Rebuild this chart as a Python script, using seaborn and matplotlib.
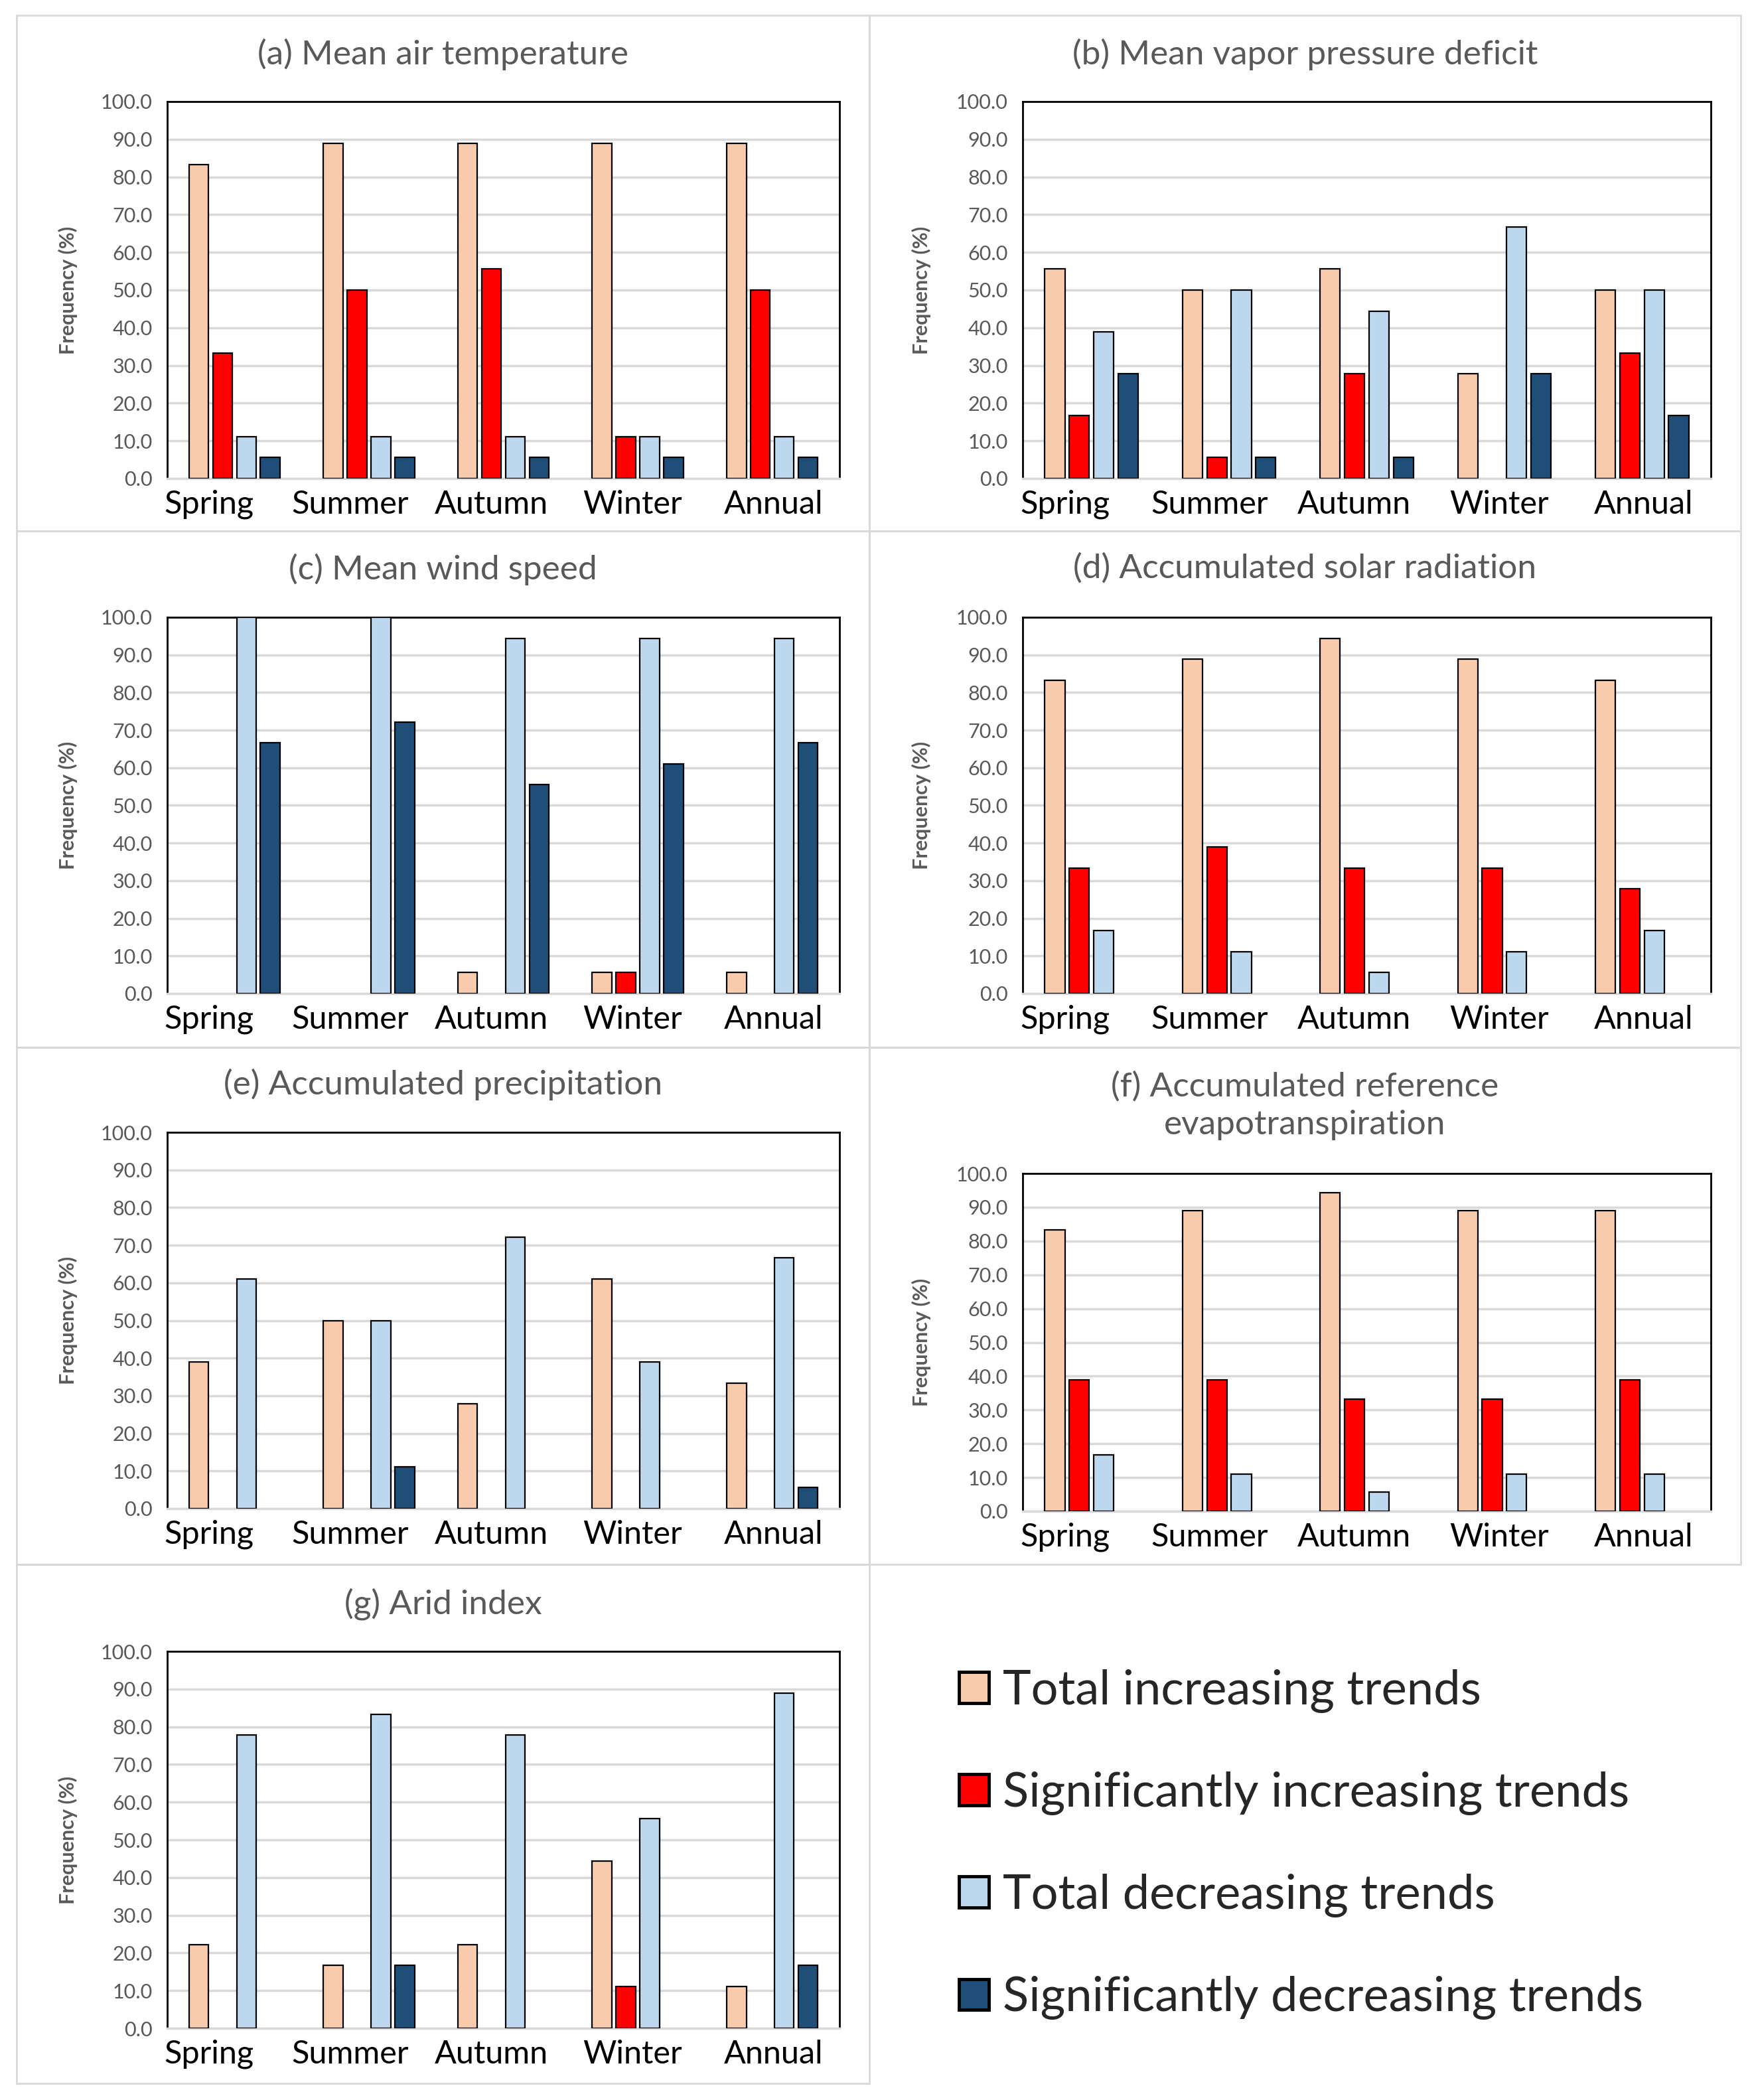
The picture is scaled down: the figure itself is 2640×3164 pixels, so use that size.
import numpy as np
import pandas as pd
import matplotlib
matplotlib.use("Agg")
import matplotlib.pyplot as plt
from matplotlib.patches import Patch, Rectangle
import seaborn as sns

# Categories and series
seasons = ["Spring", "Summer", "Autumn", "Winter", "Annual"]
trend_types = ["Total increasing trends", "Significantly increasing trends",
               "Total decreasing trends", "Significantly decreasing trends"]
colors = ["#F8CBAD", "#FF0000", "#BDD7EE", "#1F4E79"]

# Frequency (%) per season, one list per trend type
# (a) Mean air temperature
temp_tot_inc = [83.3, 88.9, 88.9, 88.9, 88.9]
temp_sig_inc = [33.3, 50.0, 55.6, 11.1, 50.0]
temp_tot_dec = [11.1, 11.1, 11.1, 11.1, 11.1]
temp_sig_dec = [5.6, 5.6, 5.6, 5.6, 5.6]
# (b) Mean vapor pressure deficit
vpd_tot_inc = [55.6, 50.0, 55.6, 27.8, 50.0]
vpd_sig_inc = [16.7, 5.6, 27.8, 0.0, 33.3]
vpd_tot_dec = [38.9, 50.0, 44.4, 66.7, 50.0]
vpd_sig_dec = [27.8, 5.6, 5.6, 27.8, 16.7]
# (c) Mean wind speed
wind_tot_inc = [0.0, 0.0, 5.6, 5.6, 5.6]
wind_sig_inc = [0.0, 0.0, 0.0, 5.6, 0.0]
wind_tot_dec = [100.0, 100.0, 94.4, 94.4, 94.4]
wind_sig_dec = [66.7, 72.2, 55.6, 61.1, 66.7]
# (d) Accumulated solar radiation
rad_tot_inc = [83.3, 88.9, 94.4, 88.9, 83.3]
rad_sig_inc = [33.3, 38.9, 33.3, 33.3, 27.8]
rad_tot_dec = [16.7, 11.1, 5.6, 11.1, 16.7]
rad_sig_dec = [0.0, 0.0, 0.0, 0.0, 0.0]
# (e) Accumulated precipitation
prec_tot_inc = [38.9, 50.0, 27.8, 61.1, 33.3]
prec_sig_inc = [0.0, 0.0, 0.0, 0.0, 0.0]
prec_tot_dec = [61.1, 50.0, 72.2, 38.9, 66.7]
prec_sig_dec = [0.0, 11.1, 0.0, 0.0, 5.6]
# (f) Accumulated reference evapotranspiration
et0_tot_inc = [83.3, 88.9, 94.4, 88.9, 88.9]
et0_sig_inc = [38.9, 38.9, 33.3, 33.3, 38.9]
et0_tot_dec = [16.7, 11.1, 5.6, 11.1, 11.1]
et0_sig_dec = [0.0, 0.0, 0.0, 0.0, 0.0]
# (g) Arid index
arid_tot_inc = [22.2, 16.7, 22.2, 44.4, 11.1]
arid_sig_inc = [0.0, 0.0, 0.0, 11.1, 0.0]
arid_tot_dec = [77.8, 83.3, 77.8, 55.6, 88.9]
arid_sig_dec = [0.0, 16.7, 0.0, 0.0, 16.7]

panel_titles = ["(a) Mean air temperature", "(b) Mean vapor pressure deficit",
                "(c) Mean wind speed", "(d) Accumulated solar radiation",
                "(e) Accumulated precipitation",
                "(f) Accumulated reference\nevapotranspiration",
                "(g) Arid index"]
panel_series = [
    [temp_tot_inc, temp_sig_inc, temp_tot_dec, temp_sig_dec],
    [vpd_tot_inc, vpd_sig_inc, vpd_tot_dec, vpd_sig_dec],
    [wind_tot_inc, wind_sig_inc, wind_tot_dec, wind_sig_dec],
    [rad_tot_inc, rad_sig_inc, rad_tot_dec, rad_sig_dec],
    [prec_tot_inc, prec_sig_inc, prec_tot_dec, prec_sig_dec],
    [et0_tot_inc, et0_sig_inc, et0_tot_dec, et0_sig_dec],
    [arid_tot_inc, arid_sig_inc, arid_tot_dec, arid_sig_dec],
]

W, H = 2640, 3164
# layout in pixels: axes (left, top, right, bottom), panel frame, title centre
axes_px = [(252, 153, 1265, 721), (1541, 153, 2578, 721),
           (252, 930, 1265, 1497), (1541, 930, 2578, 1497),
           (252, 1706, 1265, 2273), (1541, 1768, 2578, 2277),
           (252, 2488, 1265, 3056)]
frames_px = [(25, 23, 1310, 800), (1310, 23, 2623, 800),
             (25, 800, 1310, 1578), (1310, 800, 2623, 1578),
             (25, 1578, 1310, 2357), (1310, 1578, 2623, 2357),
             (25, 2357, 1310, 3139)]
title_y_px = [82, 82, 858, 856, 1634, 1666, 2417]

sns.set_theme(style="white")
plt.rcParams["font.family"] = ["Lato", "DejaVu Sans"]

GREY = "#595959"
GRID = "#D9D9D9"

fig = plt.figure(figsize=(W / 100, H / 100), dpi=100)
palette = dict(zip(trend_types, colors))

for i, series in enumerate(panel_series):
    l, t, r, b = axes_px[i]
    ax = fig.add_axes([l / W, 1 - b / H, (r - l) / W, (b - t) / H])

    df = pd.DataFrame({
        "season": np.tile(seasons, len(trend_types)),
        "trend": np.repeat(trend_types, len(seasons)),
        "freq": np.concatenate(series),
    })
    # zero frequencies are simply not drawn in the source chart
    df["freq"] = df["freq"].replace(0, np.nan)

    sns.barplot(data=df, x="season", y="freq", hue="trend", order=seasons,
                hue_order=trend_types, palette=palette, saturation=1,
                width=0.71, gap=0.18, edgecolor="black", linewidth=1.6,
                errorbar=None, legend=False, ax=ax, zorder=3)

    ax.set_ylim(0, 100)
    ax.set_xlim(-0.5, 4.5)
    ax.set_yticks(np.arange(0, 101, 10))
    ax.set_yticklabels([f"{v:.1f}" for v in np.arange(0, 101, 10)])
    ax.yaxis.grid(True, color=GRID, lw=2.5, zorder=0)
    ax.set_axisbelow(True)
    # season labels sit slightly wider than the bar groups in the source
    ax.set_xticks(np.arange(5) * 1.05 - 0.19)
    ax.set_xticklabels(seasons)
    ax.tick_params(axis="x", length=0, pad=12, labelsize=35, labelcolor="black")
    ax.tick_params(axis="y", length=0, pad=16, labelsize=22, labelcolor=GREY)
    ax.set_xlabel("")
    ax.set_ylabel("Frequency (%)", fontsize=22, color=GREY, fontweight="bold")
    ax.yaxis.set_label_coords(-0.133, 0.5)
    for side in ["top", "left", "right"]:
        ax.spines[side].set_color("black")
        ax.spines[side].set_linewidth(2)
    ax.spines["bottom"].set_color(GRID)
    ax.spines["bottom"].set_linewidth(2.5)

    fl, ft, fr, fb = frames_px[i]
    fig.add_artist(Rectangle((fl / W, 1 - fb / H), (fr - fl) / W, (fb - ft) / H,
                             transform=fig.transFigure, fill=False,
                             edgecolor=GRID, lw=2))
    fig.text((fl + fr) / 2 / W, 1 - title_y_px[i] / H, panel_titles[i],
             ha="center", va="center", fontsize=37, color=GREY,
             linespacing=1.3)

handles = [Patch(facecolor=c, edgecolor="black", lw=3.5) for c in colors]
fig.legend(handles, trend_types, loc="upper left",
           bbox_to_anchor=(1445 / W, 1 - 2515 / H), frameon=False,
           fontsize=52, handlelength=0.62, handleheight=0.62,
           handletextpad=0.3, labelspacing=1.22, borderaxespad=0,
           borderpad=0)

fig.savefig("out.png", dpi=100)
